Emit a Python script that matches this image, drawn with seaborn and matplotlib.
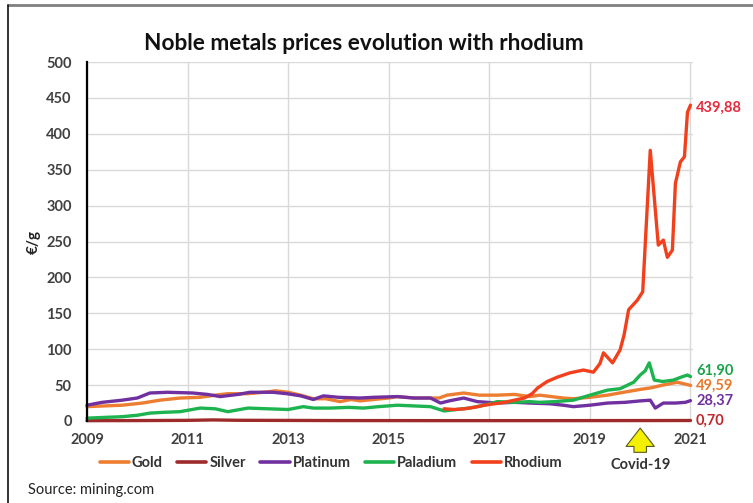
import matplotlib
matplotlib.use("Agg")
import matplotlib.pyplot as plt
from matplotlib.lines import Line2D
import seaborn as sns
import pandas as pd

# Prices in EUR per gram, dates as decimal years
gold_t = [2009.0, 2009.35, 2009.7, 2010.1, 2010.45, 2010.85, 2011.25, 2011.55, 2011.8, 2012.2,
          2012.5, 2012.75, 2013.0, 2013.25, 2013.5, 2013.75, 2014.03, 2014.25, 2014.43, 2014.7,
          2015.0, 2015.17, 2015.5, 2015.83, 2016.0, 2016.16, 2016.49, 2016.8, 2017.16, 2017.5,
          2017.8, 2018.0, 2018.47, 2018.67, 2019.0, 2019.35, 2019.67, 2020.0, 2020.2, 2020.45,
          2020.74, 2021.0]
gold_v = [20, 21, 22, 25, 29, 32, 33, 36, 38, 38,
          40, 42, 40, 36, 31, 31, 27, 30, 28, 30,
          32, 34, 32, 32, 32, 36, 39, 36, 36, 37,
          34, 36, 32, 31, 33, 36, 40, 44, 46, 50,
          54, 49.59]

silver_t = [2009.0, 2010.0, 2011.0, 2011.5, 2012.0, 2013.0, 2014.0, 2016.0, 2018.0, 2020.0, 2021.0]
silver_v = [0.5, 0.6, 0.9, 1.5, 1.0, 0.8, 0.6, 0.5, 0.5, 0.6, 0.70]

platinum_t = [2009.0, 2009.3, 2009.7, 2010.0, 2010.25, 2010.6, 2011.1, 2011.4, 2011.65, 2012.0,
              2012.24, 2012.7, 2012.98, 2013.25, 2013.5, 2013.7, 2014.0, 2014.43, 2014.7, 2015.17,
              2015.5, 2015.83, 2016.03, 2016.2, 2016.49, 2016.76, 2017.16, 2017.5, 2017.8, 2018.2,
              2018.47, 2018.67, 2019.0, 2019.35, 2019.7, 2020.0, 2020.2, 2020.3, 2020.46, 2020.7,
              2020.9, 2021.0]
platinum_v = [22, 26, 29, 32, 39, 40, 39, 37, 34, 37,
              40, 40, 38, 35, 30, 35, 33, 32, 33, 34,
              32, 32, 25, 28, 32, 27, 25, 26, 25, 24,
              22, 20, 22, 25, 26, 28, 29, 18, 25, 25,
              26, 28.37]

paladium_t = [2009.0, 2009.35, 2009.7, 2010.0, 2010.25, 2010.5, 2010.85, 2011.25, 2011.55, 2011.8,
              2012.2, 2012.6, 2013.0, 2013.3, 2013.5, 2013.84, 2014.2, 2014.5, 2014.8, 2015.17,
              2015.5, 2015.83, 2016.1, 2016.35, 2016.6, 2016.9, 2017.16, 2017.5, 2017.8, 2018.0,
              2018.3, 2018.67, 2019.0, 2019.2, 2019.35, 2019.6, 2019.87, 2020.0, 2020.1, 2020.18,
              2020.28, 2020.45, 2020.66, 2020.85, 2020.94, 2021.0]
paladium_v = [4, 5, 6, 8, 11, 12, 13, 18, 17, 13,
              18, 17, 16, 20, 18, 18, 19, 18, 20, 22,
              21, 20, 14, 16, 18, 22, 27, 26, 27, 26,
              27, 29, 36, 40, 43, 45, 54, 64, 70, 81,
              57, 55, 57, 62, 64, 61.90]

rhodium_t = [2016.1, 2016.3, 2016.5, 2016.7, 2016.9, 2017.1, 2017.3, 2017.5, 2017.7, 2017.85,
             2017.96, 2018.15, 2018.35, 2018.6, 2018.87, 2019.07, 2019.2, 2019.27, 2019.45, 2019.6,
             2019.68, 2019.77, 2019.94, 2020.05, 2020.2, 2020.36, 2020.46, 2020.54, 2020.64, 2020.7,
             2020.8, 2020.88, 2020.94, 2021.0]
rhodium_v = [17, 16, 17, 19, 22, 24, 26, 29, 32, 38,
             46, 55, 61, 67, 71, 68, 80, 95, 81, 99,
             120, 155, 168, 180, 377, 245, 252, 228, 238, 331,
             361, 368, 430, 439.88]

names = ["Gold", "Silver", "Platinum", "Paladium", "Rhodium"]
line_colors = ["#ED7D31", "#9E2A2B", "#7030A0", "#1DB34F", "#F2401C"]
label_colors = ["#E8792B", "#C0262C", "#7030A0", "#1AA34A", "#E8283C"]
label_texts = ["49,59", "0,70", "28,37", "61,90", "439,88"]
label_dy = [0, 0, 0, 4, -2]

x_ticks = [2009, 2011, 2013, 2015, 2017, 2019, 2021]
y_ticks = list(range(0, 501, 50))

series = {
    "Gold": (gold_t, gold_v),
    "Silver": (silver_t, silver_v),
    "Platinum": (platinum_t, platinum_v),
    "Paladium": (paladium_t, paladium_v),
    "Rhodium": (rhodium_t, rhodium_v),
}
frames = [pd.DataFrame({"year": t, "price": v, "metal": n}) for n, (t, v) in series.items()]
df = pd.concat(frames, ignore_index=True)

sns.set_theme(style="white")
plt.rcParams["font.family"] = ["Lato", "DejaVu Sans"]

fig = plt.figure(figsize=(7.53, 5.03), dpi=100)
ax = fig.add_axes([87 / 753, 1 - 421 / 503, (693 - 87) / 753, (421 - 62) / 503])

sns.lineplot(data=df, x="year", y="price", hue="metal", hue_order=names,
             palette=dict(zip(names, line_colors)), linewidth=2.4, ax=ax,
             legend=False, estimator=None, sort=False)
for ln in ax.get_lines():
    ln.set_clip_on(False)

ax.set_xlim(2009, 2021.05)
ax.set_ylim(0, 500)
ax.set_xticks(x_ticks)
ax.set_yticks(y_ticks)
ax.grid(True, color="#d9d9d9", linewidth=1.0)
ax.set_axisbelow(True)
for s in ["top", "right", "bottom"]:
    ax.spines[s].set_visible(False)
ax.spines["left"].set_color("black")
ax.spines["left"].set_linewidth(1.6)
ax.tick_params(axis="both", length=0, labelsize=10.5, labelcolor="#404040")
ax.tick_params(axis="x", pad=9)
ax.tick_params(axis="y", pad=11)
for lab in ax.get_xticklabels() + ax.get_yticklabels():
    lab.set_fontweight("bold")
ax.set_xlabel("")
ax.set_ylabel("€/g", fontsize=11, fontweight="bold", color="#222222", labelpad=4)

# end-of-series value labels
for n, txt, c, dy in zip(names, label_texts, label_colors, label_dy):
    t, v = series[n]
    ax.annotate(txt, xy=(t[-1], v[-1]), xytext=(4, dy), textcoords="offset points",
                color=c, fontsize=10.5, fontweight="bold", va="center", ha="left",
                annotation_clip=False)

# Covid-19 marker below the axis
ax.annotate("", xy=(2020.0, -0.012), xycoords=ax.get_xaxis_transform(),
            xytext=(2020.0, -0.095), textcoords=ax.get_xaxis_transform(),
            arrowprops=dict(arrowstyle="simple,head_width=1.7,head_length=1.1,tail_width=0.75",
                            facecolor="#F5F000", edgecolor="#5a5a20", linewidth=0.8),
            annotation_clip=False)
fig.text(641 / 753, 1 - 465 / 503, "Covid-19", ha="center", va="center",
         fontsize=10.5, fontweight="bold", color="#333333")

fig.text(364 / 753, 1 - 43 / 503, "Noble metals prices evolution with rhodium",
         ha="center", va="center", fontsize=16.3, fontweight="bold", color="#111111")

handles = [Line2D([], [], color=c, linewidth=2.6) for c in line_colors]
leg = fig.legend(handles, names, loc="center", bbox_to_anchor=(331 / 753, 1 - 463 / 503),
                 ncol=5, frameon=False, handlelength=2.0, handletextpad=0.2,
                 columnspacing=1.0, prop={"size": 10.5, "weight": "bold"})
for txt in leg.get_texts():
    txt.set_color("#333333")

fig.text(28 / 753, 1 - 490 / 503, "Source: mining.com", ha="left", va="center",
         fontsize=10.5, color="#222222")

# outer frame
fig.add_artist(Line2D([8 / 753, 1], [1 - 5 / 503, 1 - 5 / 503], transform=fig.transFigure,
                      color="#7f7f7f", linewidth=2.0))
fig.add_artist(Line2D([8 / 753, 8 / 753], [0, 1 - 5 / 503], transform=fig.transFigure,
                      color="#111111", linewidth=1.2))

fig.savefig("out.png", dpi=100)
